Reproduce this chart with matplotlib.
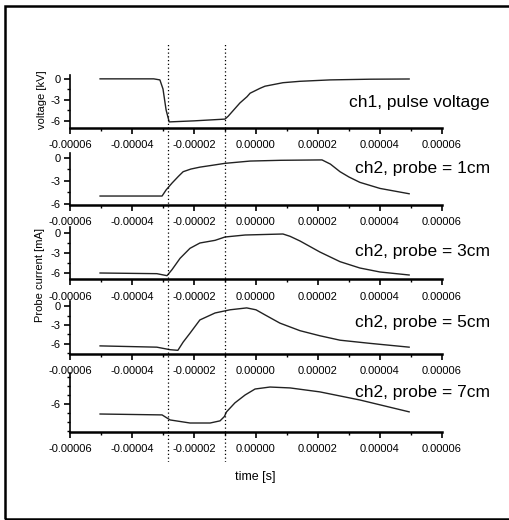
import matplotlib
matplotlib.use('Agg')
import matplotlib.pyplot as plt
from matplotlib.ticker import MultipleLocator, FormatStrFormatter
from matplotlib.patches import Rectangle
import numpy as np

plt.rcParams['axes.unicode_minus'] = False
FONT = ['Liberation Sans', 'DejaVu Sans']

# time axis values are in units of 1e-5 s
t1 = [-5.03, -3.3, -3.1, -3.0, -2.9, -2.8, -2.0, -1.0, -0.9, -0.74, -0.52, -0.29, -0.19, 0.13, 0.29, 0.87, 1.42, 2.39, 3.68, 4.94]
v1 = [-0.05, -0.05, -0.2, -1.5, -4.5, -6.2, -6.05, -5.8, -5.4, -4.6, -3.5, -2.6, -2.1, -1.4, -1.1, -0.6, -0.4, -0.2, -0.1, -0.07]

t2 = [-5.03, -3.03, -2.9, -2.71, -2.5, -2.35, -2.1, -1.81, -1.4, -1.0, -0.19, 0.8, 2.13, 2.4, 2.71, 3.0, 3.35, 4.0, 4.94]
v2 = [-5.0, -5.0, -4.2, -3.3, -2.4, -1.8, -1.45, -1.2, -0.95, -0.7, -0.4, -0.3, -0.25, -0.8, -1.8, -2.5, -3.2, -4.0, -4.7]

t3 = [-5.03, -3.2, -2.87, -2.71, -2.45, -2.13, -1.81, -1.32, -1.0, -0.35, 0.87, 1.1, 1.42, 2.06, 2.71, 3.35, 4.0, 4.94]
v3 = [-6.0, -6.1, -6.4, -5.5, -3.8, -2.3, -1.5, -1.1, -0.6, -0.3, -0.15, -0.5, -1.2, -2.85, -4.3, -5.25, -5.85, -6.3]

t4 = [-5.03, -3.2, -2.77, -2.52, -2.35, -2.13, -1.81, -1.32, -0.84, -0.3, 0.0, 0.29, 0.77, 1.42, 2.06, 2.71, 3.68, 4.94]
v4 = [-6.3, -6.5, -6.9, -7.0, -5.7, -4.3, -2.2, -1.1, -0.6, -0.3, -0.6, -1.4, -2.7, -3.9, -4.7, -5.4, -5.9, -6.5]

t5 = [-5.03, -3.03, -2.77, -2.13, -1.48, -1.16, -1.02, -0.95, -0.68, -0.35, -0.03, 0.45, 1.1, 2.06, 3.35, 4.94]
v5 = [-6.56, -6.61, -6.89, -7.06, -7.06, -6.94, -6.7, -6.44, -5.94, -5.5, -5.17, -5.06, -5.11, -5.33, -5.78, -6.44]

labels = ['ch1, pulse voltage', 'ch2, probe = 1cm', 'ch2, probe = 3cm',
          'ch2, probe = 5cm', 'ch2, probe = 7cm']
marker_times = [-2.84, -1.0]

W, H = 510, 520
def fx(px):
    return px / W
def fy(py):
    return 1 - py / H

fig = plt.figure(figsize=(W / 100, H / 100), dpi=100)
fig.patches.append(Rectangle((fx(5), fy(519)), fx(520), fy(6) - fy(519),
                             transform=fig.transFigure, fill=False,
                             edgecolor='black', lw=1.8))

# (top px, bottom px, ylim, major, minor, label centre px)
panels = [
    (75, 128, (-7.07, 0.5), 3, 1.5, 102),
    (153, 205, (-6.18, 0.66), 3, 1.5, 168),
    (227, 279, (-6.9, 0.9), 3, 1.5, 251),
    (301, 354, (-7.58, 0.79), 3, 1.5, 323),
    (373, 432, (-7.56, -4.28), 2, 0.5, 393),
]
series = [(t1, v1), (t2, v2), (t3, v3), (t4, v4), (t5, v5)]

x0, x1 = 70, 442
for (top, bot, ylim, maj, mnr, ly), (t, v), lab in zip(panels, series, labels):
    ax = fig.add_axes([fx(x0), fy(bot), fx(x1) - fx(x0), fy(top) - fy(bot)])
    ax.plot(np.array(t) * 1e-5, v, color='#222222', lw=1.0)
    ax.set_xlim(-6e-5, 6e-5)
    ax.set_ylim(*ylim)
    ax.xaxis.set_major_locator(MultipleLocator(2e-5))
    ax.xaxis.set_minor_locator(MultipleLocator(1e-5))
    ax.xaxis.set_major_formatter(FormatStrFormatter('%.5f'))
    ax.yaxis.set_major_locator(MultipleLocator(maj))
    ax.yaxis.set_minor_locator(MultipleLocator(mnr))
    ax.yaxis.set_major_formatter(FormatStrFormatter('%d'))
    for s in ['top', 'right']:
        ax.spines[s].set_visible(False)
    ax.spines['bottom'].set_linewidth(1.8)
    ax.spines['left'].set_linewidth(1.2)
    ax.tick_params(which='major', direction='out', length=4, width=1.2,
                   labelsize=8, pad=3)
    ax.tick_params(axis='x', which='major', pad=5)
    ax.tick_params(which='minor', direction='out', length=2, width=1)
    for tl in ax.get_xticklabels() + ax.get_yticklabels():
        tl.set_family(FONT)
    ax.patch.set_alpha(0)
    fig.text(fx(490), fy(ly), lab, ha='right', va='center',
             fontsize=12.5, family=FONT)

ov = fig.add_axes([fx(x0), fy(462), fx(x1) - fx(x0), fy(43) - fy(462)])
ov.set_xlim(-6e-5, 6e-5)
ov.set_ylim(0, 1)
ov.axis('off')
for mt in marker_times:
    ov.axvline(mt * 1e-5, color='black', lw=0.9, ls=(0, (1, 2)))

fig.text(fx(42), fy(100), 'voltage [kV]', rotation=90, ha='center',
         va='center', fontsize=8, family=FONT)
fig.text(fx(40), fy(275), 'Probe current [mA]', rotation=90, ha='center',
         va='center', fontsize=8, family=FONT)
fig.text(fx(255), fy(477), 'time [s]', ha='center', va='center',
         fontsize=9, family=FONT)

fig.savefig('out.png', dpi=100)
